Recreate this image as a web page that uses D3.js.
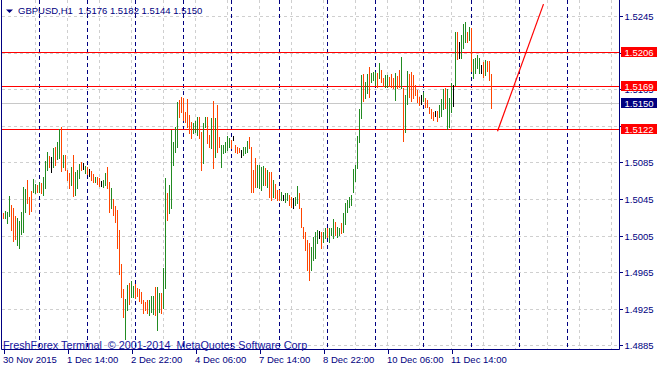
<!DOCTYPE html>
<html><head><meta charset="utf-8">
<script src="https://cdn.jsdelivr.net/npm/d3@7"></script>
<style>
html,body{margin:0;padding:0;background:#fff;overflow:hidden}
svg{display:block}
text{font-family:"Liberation Sans",Arial,sans-serif;font-size:9.5px}
</style></head><body>
<script>
// ---- data ----
const symbolTitle = "GBPUSD,H1  1.5176 1.5182 1.5144 1.5150";
const copyright = "FreshForex Terminal  \u00a9 2001-2014  MetaQuotes Software Corp";

const highs = [
 1.5030,1.5032,1.5031,1.5048,1.5038,1.5035,1.5026,1.5024,1.5021,1.5031,
 1.5058,1.5056,1.5066,1.5047,1.5054,1.5067,1.5061,1.5060,1.5063,1.5062,
 1.5069,1.5086,1.5096,1.5092,1.5091,1.5101,1.5102,1.5107,1.5121,1.5124,
 1.5093,1.5093,1.5077,1.5073,1.5080,1.5093,1.5074,1.5077,1.5083,1.5085,
 1.5084,1.5081,1.5080,1.5078,1.5076,1.5072,1.5069,1.5069,1.5068,1.5065,
 1.5066,1.5073,1.5080,1.5063,1.5057,1.5045,1.5037,1.5033,1.5011,1.4974,
 1.4947,1.4936,1.4951,1.4953,1.4955,1.4950,1.4952,1.4948,1.4947,1.4943,
 1.4935,1.4932,1.4935,1.4935,1.4939,1.4939,1.4949,1.4949,1.4942,1.4942,
 1.4970,1.5068,1.5051,1.5060,1.5120,1.5107,1.5124,1.5151,1.5153,1.5156,
 1.5155,1.5140,1.5154,1.5137,1.5129,1.5128,1.5130,1.5135,1.5135,1.5118,
 1.5128,1.5135,1.5135,1.5115,1.5133,1.5152,1.5133,1.5148,1.5113,1.5104,
 1.5104,1.5107,1.5114,1.5112,1.5109,1.5114,1.5104,1.5102,1.5101,1.5098,
 1.5102,1.5102,1.5108,1.5113,1.5102,1.5077,1.5090,1.5082,1.5082,1.5080,
 1.5081,1.5079,1.5077,1.5074,1.5074,1.5066,1.5061,1.5055,1.5055,1.5053,
 1.5049,1.5051,1.5051,1.5049,1.5047,1.5046,1.5047,1.5059,1.5051,1.5035,
 1.5014,1.5009,1.5000,1.4997,1.4992,1.5003,1.5009,1.5011,1.5010,1.5009,
 1.5009,1.5013,1.5013,1.5013,1.5013,1.5023,1.5020,1.5014,1.5013,1.5019,
 1.5030,1.5041,1.5044,1.5047,1.5049,1.5078,1.5082,1.5114,1.5143,1.5180,
 1.5182,1.5173,1.5182,1.5189,1.5183,1.5184,1.5184,1.5183,1.5194,1.5186,
 1.5177,1.5180,1.5180,1.5178,1.5182,1.5177,1.5183,1.5179,1.5186,1.5200,
 1.5166,1.5159,1.5185,1.5182,1.5184,1.5180,1.5170,1.5164,1.5156,1.5159,
 1.5162,1.5155,1.5153,1.5145,1.5143,1.5140,1.5141,1.5141,1.5148,1.5154,
 1.5165,1.5166,1.5165,1.5155,1.5172,1.5170,1.5227,1.5227,1.5217,1.5224,
 1.5236,1.5238,1.5227,1.5233,1.5232,1.5198,1.5199,1.5202,1.5199,1.5191,
 1.5195,1.5197,1.5196,1.5196,1.5182
];
const lows = [
 1.5024,1.5024,1.5019,1.5026,1.5011,1.4999,1.5001,1.4995,1.4991,1.5007,
 1.5009,1.5031,1.5041,1.5029,1.5032,1.5053,1.5051,1.5053,1.5053,1.5051,
 1.5049,1.5057,1.5077,1.5080,1.5074,1.5080,1.5082,1.5089,1.5090,1.5076,
 1.5080,1.5077,1.5066,1.5057,1.5060,1.5048,1.5049,1.5057,1.5068,1.5077,
 1.5078,1.5073,1.5072,1.5070,1.5066,1.5063,1.5063,1.5061,1.5059,1.5059,
 1.5058,1.5060,1.5057,1.5031,1.5035,1.5027,1.5020,1.4991,1.4963,1.4938,
 1.4916,1.4892,1.4924,1.4930,1.4938,1.4938,1.4937,1.4939,1.4933,1.4931,
 1.4920,1.4924,1.4920,1.4918,1.4921,1.4919,1.4918,1.4902,1.4921,1.4920,
 1.4926,1.4948,1.5022,1.5030,1.5035,1.5082,1.5096,1.5102,1.5135,1.5140,
 1.5131,1.5129,1.5124,1.5117,1.5112,1.5117,1.5118,1.5115,1.5112,1.5077,
 1.5084,1.5124,1.5106,1.5102,1.5101,1.5079,1.5091,1.5096,1.5102,1.5080,
 1.5095,1.5096,1.5098,1.5102,1.5101,1.5109,1.5096,1.5095,1.5096,1.5091,
 1.5093,1.5095,1.5096,1.5101,1.5053,1.5053,1.5058,1.5058,1.5057,1.5055,
 1.5060,1.5060,1.5058,1.5047,1.5044,1.5047,1.5046,1.5044,1.5044,1.5044,
 1.5044,1.5042,1.5044,1.5038,1.5036,1.5035,1.5038,1.5041,1.5035,1.5014,
 1.5002,1.4989,1.4967,1.4956,1.4967,1.4978,1.4980,1.4997,1.5002,1.4991,
 1.4998,1.5002,1.5003,1.4998,1.5006,1.5002,1.5006,1.5003,1.5006,1.5008,
 1.5009,1.5018,1.5031,1.5036,1.5038,1.5053,1.5065,1.5079,1.5107,1.5133,
 1.5152,1.5155,1.5161,1.5156,1.5173,1.5175,1.5170,1.5167,1.5177,1.5173,
 1.5168,1.5167,1.5167,1.5168,1.5167,1.5166,1.5153,1.5166,1.5167,1.5166,
 1.5108,1.5118,1.5149,1.5156,1.5152,1.5155,1.5159,1.5151,1.5148,1.5149,
 1.5152,1.5145,1.5145,1.5139,1.5133,1.5131,1.5136,1.5130,1.5135,1.5136,
 1.5143,1.5144,1.5122,1.5124,1.5140,1.5147,1.5170,1.5198,1.5199,1.5199,
 1.5210,1.5217,1.5217,1.5219,1.5185,1.5177,1.5183,1.5188,1.5183,1.5183,
 1.5178,1.5180,1.5185,1.5175,1.5144
];
// u = bull bar, d = bear bar, n = doji
const directions = (
 "duuuddduuu" + "uuddduudud" + "uuudnuduud" + "uddduduuud" + "nudndduddn" +
 "uudduddddd" + "duuduudddd" + "ddduuuduud" + "uuduuuuudd" + "ddddduuudd" +
 "uuddududdu" + "uuuudndddn" + "uuudddduuu" + "ududdudddu" + "nuuddnuudd" +
 "dddduuuund" + "uuduuuduud" + "uuuuuuuuuu" + "duuduuudud" + "duuddduddu" +
 "duuddddddn" + "udddddnduu" + "uduuunudnu" + "uududuuuun" + "duddd").split("");

const priceTicks = [1.4885,1.4925,1.4965,1.5005,1.5045,1.5085,1.5125,1.5165,1.5205,1.5245];
const levelPrices = [1.5206, 1.5169, 1.5122];
const bidPrice = 1.5150;
const timeLabels = ["30 Nov 2015","1 Dec 14:00","2 Dec 22:00","4 Dec 06:00","7 Dec 14:00","8 Dec 22:00","10 Dec 06:00","11 Dec 14:00"];
const timeLabelBars = [0,32,64,96,128,160,192,224];
const gridBars = [16,32,48,64,80,96,112,128,144,160,176,192,208,224,240,256,272,288,304];
const daySeparatorBars = [18,42,66,90,114,138,162,186,210,234,258,282];
const trendBars = [247, 270];
const trendPrices = [1.5119, 1.5258];

// ---- drawing ----
const W = 659, H = 368;
const navy = "#000080", gridCol = "#cfcfcf";
const colorOf = {u:"#228b22", d:"#ff4500", n:"#000000"};
const svg = d3.select("body").append("svg").attr("width", W).attr("height", H);
svg.append("rect").attr("width", W).attr("height", H).attr("fill", "#fff");

const x = d3.scaleLinear().domain([0, 304]).range([3.5, 611.5]);
const y = d3.scaleLinear().domain([1.4885, 1.5245]).range([345.3, 16]);
const left = 1.5, right = 619.5, bottom = 349.5;
const py = p => Math.round(y(p)) + 0.5;

svg.append("defs").append("clipPath").attr("id", "plot")
  .append("rect").attr("x", 2).attr("y", 0).attr("width", right - 2).attr("height", bottom);
const g = svg.append("g").attr("clip-path", "url(#plot)");

// horizontal grid
g.selectAll("line.hg").data(priceTicks).join("line").attr("class", "hg")
  .attr("x1", 2).attr("x2", right).attr("y1", py).attr("y2", py)
  .attr("stroke", gridCol).attr("stroke-dasharray", "3,3").attr("shape-rendering", "crispEdges");
// vertical grid
g.selectAll("line.vg").data(gridBars).join("line").attr("class", "vg")
  .attr("x1", d => x(d)).attr("x2", d => x(d)).attr("y1", 0).attr("y2", bottom)
  .attr("stroke", gridCol).attr("stroke-dasharray", "3,3").attr("shape-rendering", "crispEdges");
// day separators
g.selectAll("line.ds").data(daySeparatorBars).join("line").attr("class", "ds")
  .attr("x1", d => x(d)).attr("x2", d => x(d)).attr("y1", 0).attr("y2", bottom)
  .attr("stroke", navy).attr("stroke-dasharray", "4,3").attr("shape-rendering", "crispEdges");

// bid line
g.append("line").attr("x1", 2).attr("x2", right).attr("y1", py(bidPrice)).attr("y2", py(bidPrice))
  .attr("stroke", "#c8c8c8").attr("shape-rendering", "crispEdges");
// horizontal levels
g.selectAll("line.lv").data(levelPrices).join("line").attr("class", "lv")
  .attr("x1", 2).attr("x2", right).attr("y1", py).attr("y2", py)
  .attr("stroke", "#ff0000").attr("shape-rendering", "crispEdges");

// bars
g.selectAll("line.bar").data(highs).join("line").attr("class", "bar")
  .attr("x1", (d, i) => x(i)).attr("x2", (d, i) => x(i))
  .attr("y1", d => Math.round(y(d))).attr("y2", (d, i) => Math.round(y(lows[i])) + 1)
  .attr("stroke", (d, i) => colorOf[directions[i]]).attr("stroke-width", 1)
  .attr("shape-rendering", "crispEdges");

// trend line
g.append("line").attr("x1", x(trendBars[0])).attr("y1", y(trendPrices[0]))
  .attr("x2", x(trendBars[1])).attr("y2", y(trendPrices[1]))
  .attr("stroke", "#ff0000").attr("stroke-width", 1.2);

// borders
svg.append("line").attr("x1", left).attr("x2", left).attr("y1", 0).attr("y2", bottom).attr("stroke", navy);
svg.append("line").attr("x1", right).attr("x2", right).attr("y1", 0).attr("y2", bottom).attr("stroke", navy);
svg.append("line").attr("x1", left).attr("x2", right).attr("y1", bottom).attr("y2", bottom).attr("stroke", navy);

// right price axis
const ra = svg.append("g").attr("transform", `translate(${right},0)`)
  .call(d3.axisRight(y).tickValues(priceTicks).tickSize(3).tickPadding(2).tickFormat(d3.format(".4f")));
ra.select(".domain").remove();
ra.selectAll(".tick line").attr("stroke", navy).attr("shape-rendering", "crispEdges");
ra.selectAll(".tick text").attr("fill", navy).attr("font-family", "Liberation Sans, Arial, sans-serif").attr("font-size", "9.5px");
ra.selectAll(".tick").attr("transform", d => `translate(0,${py(d)})`);

// price tags
const tags = levelPrices.map(p => ({p, fill: "#ff0000"})).concat([{p: bidPrice, fill: navy}]);
const tg = svg.selectAll("g.tag").data(tags).join("g").attr("class", "tag");
tg.append("rect").attr("x", 621).attr("y", d => py(d.p) - 5.5).attr("width", 36).attr("height", 10).attr("fill", d => d.fill);
tg.append("text").attr("x", 624.5).attr("y", d => py(d.p) + 3).attr("fill", "#fff").text(d => d3.format(".4f")(d.p));

// bottom time axis
const ba = svg.append("g").attr("transform", `translate(0,${bottom})`)
  .call(d3.axisBottom(x).tickValues(timeLabelBars).tickSize(4).tickPadding(3).tickFormat((d, i) => timeLabels[i]));
ba.select(".domain").remove();
ba.selectAll(".tick line").attr("stroke", navy).attr("shape-rendering", "crispEdges");
ba.selectAll(".tick text").attr("fill", navy).attr("text-anchor", "start").attr("dx", "-1")
  .attr("font-family", "Liberation Sans, Arial, sans-serif").attr("font-size", "9.5px");

// title
svg.append("path").attr("d", "M6,9.5 L13,9.5 L9.5,13 Z").attr("fill", navy);
svg.append("text").attr("x", 18).attr("y", 14).attr("fill", navy).style("white-space", "pre").text(symbolTitle);

// copyright
svg.append("text").attr("x", 3).attr("y", 349).attr("fill", "#1414a0").style("white-space", "pre")
  .style("font-size", "10.8px").text(copyright);
</script>
</body></html>
